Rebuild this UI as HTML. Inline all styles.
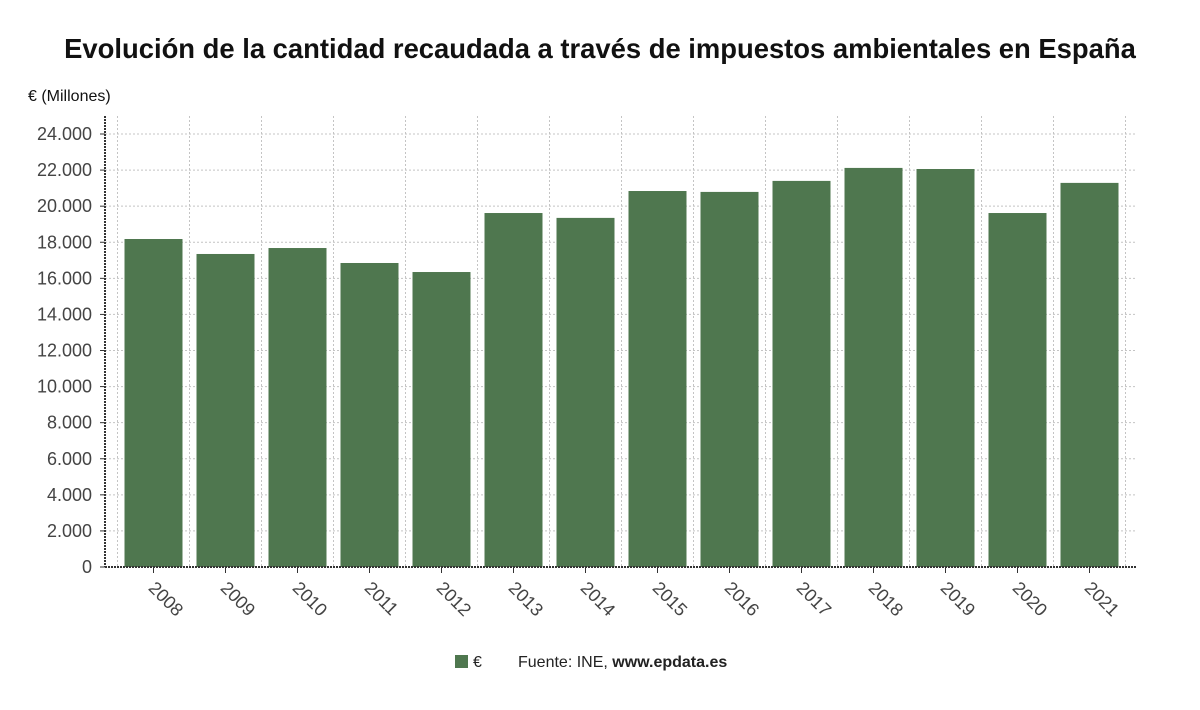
<!DOCTYPE html>
<html><head><meta charset="utf-8"><style>
body{margin:0;background:#fff;width:1200px;height:705px;overflow:hidden;font-family:"Liberation Sans",sans-serif}
</style></head><body>
<svg width="1200" height="705">
<text x="600" y="58" text-anchor="middle" font-size="27.4" font-weight="bold" fill="#111">Evolución de la cantidad recaudada a través de impuestos ambientales en España</text>
<text x="28" y="101" font-size="16" fill="#111">€ (Millones)</text>
<g id="grid"></g><g id="bars"></g><g id="axes"></g>
<g>
<rect x="455" y="655" width="13" height="13" fill="#4f774f"/>
<text x="473" y="667" font-size="16" fill="#222">€</text>
<text x="518" y="667" font-size="16" fill="#222">Fuente: INE, <tspan font-weight="bold">www.epdata.es</tspan></text>
</g>
</svg>
<script>
const categories=["2008","2009","2010","2011","2012","2013","2014","2015","2016","2017","2018","2019","2020","2021"];
const values=[18180,17350,17680,16850,16350,19620,19350,20840,20790,21400,22120,22060,19620,21290];
const yTicks=[0,2000,4000,6000,8000,10000,12000,14000,16000,18000,20000,22000,24000];
const yTickLabels=["0","2.000","4.000","6.000","8.000","10.000","12.000","14.000","16.000","18.000","20.000","22.000","24.000"];
const NS="http://www.w3.org/2000/svg";
const y0=567,y1=134,left=105,right=1137,c0=117.5,step=72,bw=58;
const y=v=>y0-(v/24000)*(y0-y1);
const x=i=>c0+step*i+step/2;
function mk(t,a,p){const e=document.createElementNS(NS,t);for(const k in a)e.setAttribute(k,a[k]);p.appendChild(e);return e;}
const grid=document.getElementById('grid'),bars=document.getElementById('bars'),axes=document.getElementById('axes');
yTicks.forEach((v,i)=>{
 if(v>0){const l=mk('line',{x1:left,x2:right,y1:y(v),y2:y(v),stroke:'#c4c4c4','stroke-dasharray':'2,2'},grid);
 
 }
 const t=mk('text',{x:92,y:y(v)+6,'text-anchor':'end','font-size':'18',fill:'#444'},axes);t.textContent=yTickLabels[i];
 
 
 mk('line',{x1:100,x2:105,y1:y(v),y2:y(v),stroke:'#333'},axes);
});
for(let i=0;i<=categories.length;i++){
 const gx=c0+step*i;
 const l=mk('line',{x1:gx,x2:gx,y1:116,y2:y0,stroke:'#c4c4c4','stroke-dasharray':'2,2'},grid);
 
 
}
categories.forEach((c,i)=>{
 const r=mk('rect',{x:x(i)-bw/2,y:y(values[i]),width:bw,height:y0-y(values[i]),fill:'#4f774f'},bars);
 
 
 mk('line',{x1:x(i),x2:x(i),y1:y0,y2:y0+6,stroke:'#333'},axes);
 const t=mk('text',{x:x(i)-6,y:y0+22,'font-size':'18',fill:'#444',transform:`rotate(45 ${x(i)-6} ${y0+22})`},axes);
 t.textContent=c;
 
 
});
const ya=mk('line',{x1:left,x2:left,y1:116,y2:y0,stroke:'#333','stroke-width':2,'stroke-dasharray':'2,1'},axes);


const xa=mk('line',{x1:left,x2:right,y1:y0,y2:y0,stroke:'#333','stroke-width':2,'stroke-dasharray':'2,1'},axes);


</script>
</body></html>
